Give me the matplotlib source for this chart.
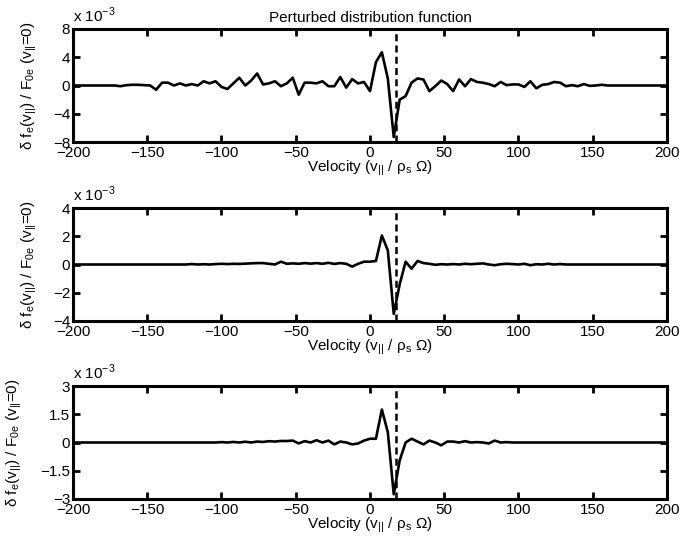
import numpy as np
import matplotlib
matplotlib.use("Agg")
import matplotlib.pyplot as plt
from matplotlib.ticker import FixedLocator, FuncFormatter

plt.rcParams['font.family'] = ['Liberation Sans', 'DejaVu Sans']
plt.rcParams['mathtext.fontset'] = 'custom'
plt.rcParams['mathtext.rm'] = 'Liberation Sans'
plt.rcParams['axes.unicode_minus'] = True

# velocity grid (v_par / rho_s Omega)
velocity = np.arange(-200, 201, 4)

# values in units of 1e-3, keyed by velocity (unlisted velocities are 0)
top_pts = {
    -168: -0.1, -164: 0.05, -160: 0.1, -156: 0.1, -152: 0.05, -148: 0.0,
    -144: -0.6, -140: 0.4, -136: 0.4, -132: 0.0, -128: 0.3, -124: 0.0,
    -120: 0.2, -116: 0.0, -112: 0.6, -108: 0.3, -104: 0.6, -100: -0.2,
    -96: -0.5, -92: 0.3, -88: 1.1, -84: 0.0, -80: 0.7, -76: 1.7,
    -72: 0.15, -68: 0.3, -64: 0.6, -60: -0.1, -56: 0.3, -52: 1.1,
    -48: -1.3, -44: 0.4, -40: 0.4, -36: 0.3, -32: 0.6, -28: -0.1,
    -24: -0.1, -20: 1.2, -16: -0.3, -12: 0.9, -8: 0.3, -4: 0.5,
    0: -0.8, 4: 3.3, 8: 4.7, 12: 1.0, 16: -7.3, 20: -2.0, 24: -1.5,
    28: 0.4, 32: 1.0, 36: 0.85, 40: -0.8, 44: -0.1, 48: 0.7, 52: 0.2,
    56: -0.8, 60: 0.85, 64: -0.1, 68: 0.9, 72: 0.5, 76: 0.4, 80: 0.2,
    84: -0.1, 88: 0.5, 92: 0.05, 96: 0.15, 100: 0.15, 104: -0.2,
    108: 0.6, 112: -0.4, 116: 0.1, 120: 0.2, 124: 0.5, 128: 0.4,
    132: -0.1, 136: 0.05, 140: -0.1, 144: 0.2, 148: -0.05, 152: 0.0,
    156: 0.1,
}
mid_pts = {
    -120: 0.03, -112: 0.02, -104: 0.03, -100: 0.05, -96: 0.03, -92: 0.05,
    -88: 0.04, -84: 0.06, -80: 0.08, -76: 0.1, -72: 0.1, -68: 0.05,
    -64: 0.0, -60: 0.2, -56: 0.05, -52: 0.08, -48: 0.05, -44: 0.1,
    -40: 0.06, -36: 0.1, -32: 0.05, -28: 0.12, -24: 0.04, -20: 0.1,
    -16: 0.05, -12: -0.15, -8: 0.05, -4: 0.2, 0: 0.2, 4: 0.25, 8: 2.05,
    12: 1.0, 16: -3.5, 20: -1.4, 24: 0.2, 28: -0.3, 32: 0.25, 36: 0.1,
    40: 0.05, 44: -0.02, 48: 0.02, 56: 0.03, 64: 0.05, 68: 0.02,
    72: 0.05, 76: 0.08, 84: -0.05, 88: 0.02, 92: 0.05, 96: 0.03,
    104: 0.05, 108: -0.05, 112: 0.02, 120: 0.05, 128: 0.03,
}
bot_pts = {
    -100: 0.02, -92: 0.03, -84: 0.04, -76: 0.05, -72: 0.03, -68: 0.07,
    -64: 0.05, -60: 0.08, -56: 0.08, -52: 0.1, -48: -0.05, -44: 0.07,
    -40: 0.0, -36: 0.12, -32: 0.0, -28: 0.1, -24: -0.1, -20: 0.05,
    -16: 0.0, -12: -0.1, -8: -0.05, -4: 0.1, 0: 0.2, 4: 0.2, 8: 1.75,
    12: 0.55, 16: -2.75, 20: -0.95, 24: 0.0, 28: 0.2, 32: 0.05,
    36: -0.1, 40: 0.1, 44: 0.0, 48: -0.15, 52: 0.05, 56: 0.05,
    64: 0.07, 72: 0.02, 80: -0.05, 84: 0.1, 92: 0.02, 100: 0.0,
}

def series(pts):
    return np.array([pts.get(int(v), 0.0) for v in velocity]) * 1e-3

delta_f_top = series(top_pts)
delta_f_mid = series(mid_pts)
delta_f_bot = series(bot_pts)

resonance_v = 17.5
ytick_top = [-8, -4, 0, 4, 8]
ytick_mid = [-4, -2, 0, 2, 4]
ytick_bot = [-3, -1.5, 0, 1.5, 3]
xticks = [-200, -150, -100, -50, 0, 50, 100, 150, 200]

fig = plt.figure(figsize=(6.82, 5.44), dpi=100)
H = 113 / 544
positions = [
    [0.107, 1 - 142 / 544, 0.871, H],
    [0.107, 1 - 321 / 544, 0.871, H],
    [0.107, 1 - 499 / 544, 0.871, H],
]
data = [delta_f_top, delta_f_mid, delta_f_bot]
yticks = [ytick_top, ytick_mid, ytick_bot]
ylabel_x = [-0.057, -0.057, -0.082]

ylabel = (r'δ f$_\mathregular{e}$(v$_\mathregular{||}$) / '
          r'F$_\mathregular{0e}$ (v$_\mathregular{||}$=0)')
xlabel = r'Velocity (v$_\mathregular{||}$ / ρ$_\mathregular{s}$ Ω)'

def fmt(val, pos):
    s = ('%g' % val)
    return s.replace('-', '\u2212')

for i, (pos, y, yt) in enumerate(zip(positions, data, yticks)):
    ax = fig.add_axes(pos)
    ax.plot(velocity, y, color='black', lw=1.9)
    ymax = yt[-1] * 1e-3
    ax.plot([resonance_v, resonance_v], [-ymax, ymax], color='black',
            lw=1.8, ls=(0, (2.8, 1.7)))
    ax.set_xlim(-200, 200)
    ax.set_ylim(-ymax, ymax)
    ax.set_xticks(xticks)
    ax.xaxis.set_major_formatter(FuncFormatter(fmt))
    ax.yaxis.set_major_locator(FixedLocator([v * 1e-3 for v in yt]))
    ax.yaxis.set_major_formatter(FuncFormatter(lambda v, p: fmt(round(v * 1e3, 3), p)))
    ax.tick_params(direction='in', length=5, width=2, top=True, right=True,
                   labelsize=11, pad=2)
    ax.tick_params(axis='x', pad=3)
    for sp in ax.spines.values():
        sp.set_linewidth(2.2)
    ax.set_ylabel(ylabel, fontsize=11)
    ax.yaxis.set_label_coords(ylabel_x[i], 0.5)
    ax.set_xlabel(xlabel, fontsize=11, labelpad=-1)
    ax.annotate(r'x 10$^\mathregular{-3}$', xy=(0.0, 1.0), xycoords='axes fraction',
                xytext=(0, 3), textcoords='offset points',
                fontsize=11, ha='left', va='bottom')
    if i == 0:
        ax.set_title('Perturbed distribution function', fontsize=11, pad=5)

fig.savefig('out.png', dpi=100)
